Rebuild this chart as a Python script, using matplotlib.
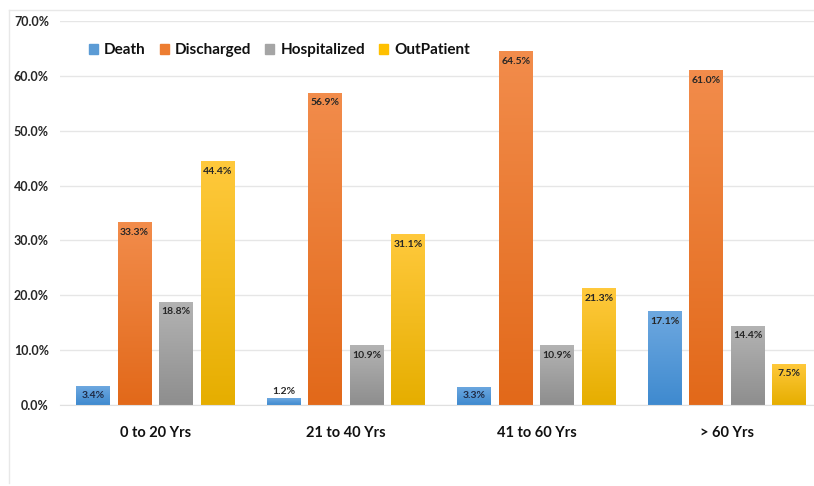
import matplotlib
matplotlib.use("Agg")
import matplotlib.pyplot as plt
import numpy as np
from matplotlib.colors import LinearSegmentedColormap
from matplotlib.lines import Line2D

categories = ["0 to 20 Yrs", "21 to 40 Yrs", "41 to 60 Yrs", "> 60 Yrs"]
series_names = ["Death", "Discharged", "Hospitalized", "OutPatient"]
death = [3.4, 1.2, 3.3, 17.1]
discharged = [33.3, 56.9, 64.5, 61.0]
hospitalized = [18.8, 10.9, 10.9, 14.4]
outpatient = [44.4, 31.1, 21.3, 7.5]
yticks = [0, 10, 20, 30, 40, 50, 60, 70]

series = [death, discharged, hospitalized, outpatient]
base_colors = ["#5B9BD5", "#ED7D31", "#A5A5A5", "#FFC000"]
grad = [("#3F8ACF", "#6DA8E0"), ("#E2691A", "#F28C4B"), ("#8E8E8E", "#B3B3B3"), ("#E6AE00", "#FFC93C")]

plt.rcParams['font.family'] = ['Lato', 'DejaVu Sans']

fig = plt.figure(figsize=(8.14, 4.86), dpi=100)
ax = fig.add_axes([0.0737, 0.1667, 0.9263, 0.7901])

x = np.arange(len(categories))
width = 0.178
step = 0.218
offsets = [(-1.5 + i) * step for i in range(4)]

for i, (vals, name) in enumerate(zip(series, series_names)):
    bars = ax.bar(x + offsets[i], vals, width, color=base_colors[i], label=name, zorder=2)
    cmap = LinearSegmentedColormap.from_list("g%d" % i, [grad[i][0], grad[i][1]])
    for b, v in zip(bars, vals):
        x0 = b.get_x()
        im = ax.imshow(np.linspace(0, 1, 100).reshape(-1, 1), cmap=cmap, origin="lower",
                       extent=[x0, x0 + b.get_width(), 0, v], aspect="auto", zorder=2.1)
        im.set_clip_path(b)
        if v < 2:
            ax.text(b.get_x() + b.get_width() / 2, v + 0.4, f"{v:.1f}%", ha="center", va="bottom",
                    fontsize=7.5, fontweight="bold", color="#262626", zorder=3)
        elif v < 5:
            ax.text(b.get_x() + b.get_width() / 2, v / 2, f"{v:.1f}%", ha="center", va="center",
                    fontsize=7.5, fontweight="bold", color="#1F2A44", zorder=3)
        else:
            ax.text(b.get_x() + b.get_width() / 2, v - 1.0, f"{v:.1f}%", ha="center", va="top",
                    fontsize=7.5, fontweight="bold", color="#262626", zorder=3)

ax.set_xlim(-0.5, 3.456)
ax.set_ylim(0, 70)
ax.set_yticks(yticks)
ax.set_yticklabels([f"{t:.1f}%" for t in yticks], fontsize=9, fontweight="bold", color="#262626")
ax.set_xticks(x)
ax.set_xticklabels(categories, fontsize=10.5, fontweight="bold", color="#111111")
ax.tick_params(axis="x", length=0, pad=15)
ax.tick_params(axis="y", length=0, pad=8)
ax.yaxis.grid(True, color="#E6E6E6", linewidth=1, zorder=0)
ax.set_axisbelow(True)
for s in ["top", "right", "left"]:
    ax.spines[s].set_visible(False)
ax.spines["bottom"].set_color("#E0E0E0")

handles = [plt.Rectangle((0, 0), 1, 1, color=c) for c in base_colors]
leg = ax.legend(handles, series_names, loc="upper left", bbox_to_anchor=(0.02, 0.978), ncol=4,
                frameon=False, handlelength=0.6, handleheight=0.6, handletextpad=0.4,
                columnspacing=0.9, prop={"size": 11, "weight": "bold"})
for t in leg.get_texts():
    t.set_color("#111111")

fig.add_artist(Line2D([9/814, 9/814], [1 - 10/486, 1 - 483/486], color="#E8E8E8", linewidth=1))
fig.add_artist(Line2D([9/814, 1.0], [1 - 10/486, 1 - 10/486], color="#E8E8E8", linewidth=1))

fig.savefig("out.png", dpi=100)
